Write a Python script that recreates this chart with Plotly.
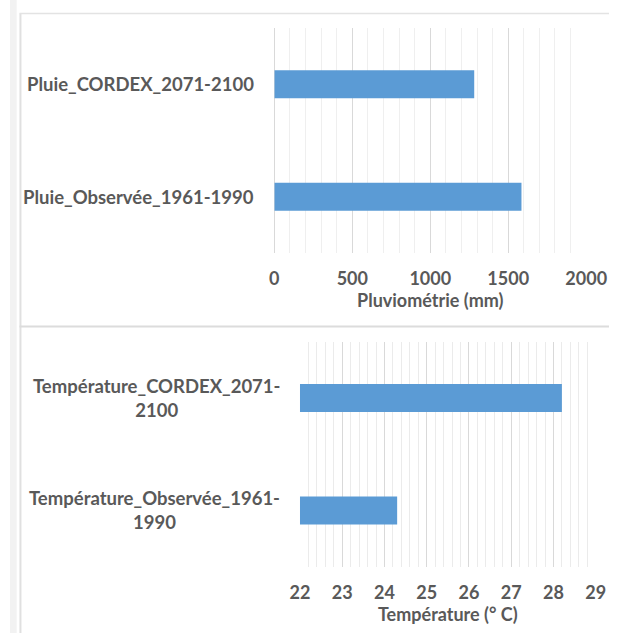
import plotly.graph_objects as go

# Data
rain_categories = ["Pluie_CORDEX_2071-2100", "Pluie_Observée_1961-1990"]
rain_labels = ["Pluie_CORDEX_2071-2100", "Pluie_Observée_1961-1990"]
rain_values = [1282, 1585]

temp_categories = ["Température_CORDEX_2071-2100", "Température_Observée_1961-1990"]
temp_labels = ["Température_CORDEX_2071-<br>2100", "Température_Observée_1961-<br>1990"]
temp_values = [28.2, 24.3]

rain_ticks = [0, 500, 1000, 1500, 2000]
temp_ticks = [22, 23, 24, 25, 26, 27, 28, 29]

W, H = 630, 633
BLUE = "#5b9bd5"
TXT = "#595959"
FONT = "Lato"

def px(x):
    return x / W

def py(y):
    return 1 - y / H

fig = go.Figure()
fig.add_trace(go.Bar(x=rain_values, y=rain_categories, orientation="h",
                     marker=dict(color=BLUE, line=dict(width=0)),
                     xaxis="x", yaxis="y", hoverinfo="x+y"))
fig.add_trace(go.Bar(x=temp_values, y=temp_categories, orientation="h",
                     marker=dict(color=BLUE, line=dict(width=0)),
                     xaxis="x2", yaxis="y2", hoverinfo="x+y"))

axis_font = dict(family=FONT, size=18, color=TXT, weight="bold")
label_font = dict(family=FONT, size=18.5, color=TXT, weight="bold")

fig.update_layout(
    width=W, height=H,
    margin=dict(l=0, r=0, t=0, b=0),
    paper_bgcolor="white", plot_bgcolor="white",
    showlegend=False,
    bargap=0.75,
    font=dict(family=FONT, color=TXT),
    xaxis=dict(domain=[px(278), px(606)], range=[0, 2000], anchor="y",
               tickvals=rain_ticks, tickfont=axis_font,
               showgrid=True, gridcolor="#d9d9d9", gridwidth=1,
               zeroline=True, zerolinecolor="#d9d9d9", zerolinewidth=1,
               minor=dict(dtick=100, showgrid=True, gridcolor="#efefef", gridwidth=1),
               showline=False, ticks="", ticklabelstandoff=13,
               title=dict(text="Pluviométrie (mm)", font=axis_font, standoff=6),
               fixedrange=True),
    yaxis=dict(domain=[py(253), py(28)], anchor="x", autorange="reversed",
               categoryorder="array", categoryarray=rain_categories,
               showticklabels=False, showgrid=False, zeroline=False, showline=False,
               ticks="", fixedrange=True),
    xaxis2=dict(domain=[px(305), px(616)], range=[22, 29], anchor="y2",
                tickvals=temp_ticks, tickfont=axis_font,
                showgrid=True, gridcolor="#d9d9d9", gridwidth=1,
                zeroline=False,
                minor=dict(dtick=0.2, showgrid=True, gridcolor="#ebebeb", gridwidth=1),
                showline=False, ticks="", ticklabelstandoff=13,
                title=dict(text="Température (° C)", font=axis_font, standoff=6),
                fixedrange=True),
    yaxis2=dict(domain=[py(566.7), py(341.7)], anchor="x2", autorange="reversed",
                categoryorder="array", categoryarray=temp_categories,
                showticklabels=False, showgrid=False, zeroline=False, showline=False,
                ticks="", fixedrange=True),
)

# Category labels (centered multi-line, like the reference)
for cat, lab in zip(rain_categories, rain_labels):
    fig.add_annotation(x=px(259), xref="paper", y=cat, yref="y", text=lab,
                       showarrow=False, xanchor="right", yanchor="middle", align="center",
                       font=label_font)
for cat, lab in zip(temp_categories, temp_labels):
    fig.add_annotation(x=px(286), xref="paper", y=cat, yref="y2", text=lab,
                       showarrow=False, xanchor="right", yanchor="middle", align="center",
                       font=label_font)

# Frame decorations
shapes = [
    dict(type="rect", xref="paper", yref="paper", x0=0, x1=px(7), y0=0, y1=1,
         fillcolor="#f2f2f2", line=dict(width=0), layer="below"),
    dict(type="line", xref="paper", yref="paper", x0=px(11), x1=px(11), y0=0, y1=py(13.5),
         line=dict(color="#e0e0e0", width=2)),
    dict(type="line", xref="paper", yref="paper", x0=px(10), x1=1, y0=py(13.5), y1=py(13.5),
         line=dict(color="#e3e3e3", width=1.5)),
    dict(type="line", xref="paper", yref="paper", x0=px(10), x1=1, y0=py(326.5), y1=py(326.5),
         line=dict(color="#dcdcdc", width=2)),
]
fig.update_layout(shapes=shapes)

fig.write_html("out.html",
               config={"displayModeBar": False},
               post_script="document.body.style.margin='0';document.body.style.overflow='hidden';")
